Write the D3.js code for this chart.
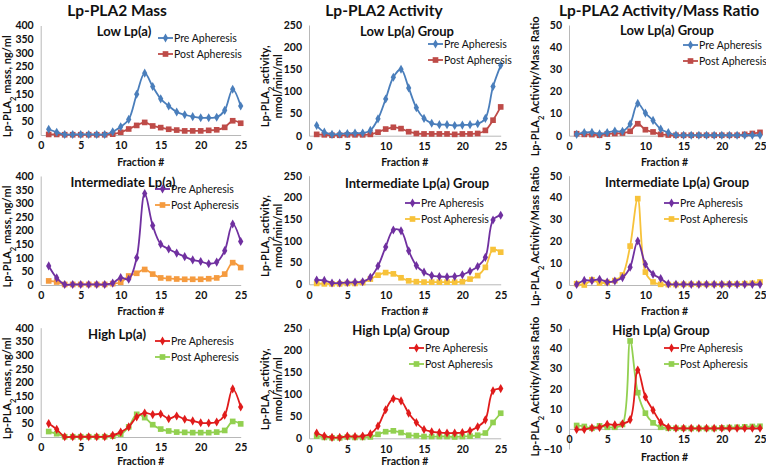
<!DOCTYPE html>
<html><head><meta charset="utf-8">
<script src="https://cdn.jsdelivr.net/npm/d3@7"></script>
<style>
body{margin:0;background:#fff;}
text{font-family:Lato,"Open Sans",sans-serif;fill:#111;}
</style></head>
<body><svg id="c" width="766" height="468"></svg>
<script>
const fractions = d3.range(1, 26);

// Lp-PLA2 mass (ng/ml)
const massLowPre   = [21,10,2,2,2,2,2,2,12,30,57,149,226,177,132,106,84,74,67,63,63,65,90,167,106];
const massLowPost  = [2,2,1,1,1,1,1,1,3,10,22,35,46,33,27,21,18,15,15,15,17,19,28,52,43];
const massIntPre   = [70,26,2,2,2,2,2,2,7,27,21,100,336,218,150,132,117,104,92,86,78,84,126,224,160];
const massIntPost  = [15,11,2,2,2,2,2,2,5,10,33,43,57,40,26,24,22,21,21,21,23,26,40,82,64];
const massHighPre  = [49,28,1,1,1,1,1,1,6,18,37,73,88,82,84,67,77,65,59,52,51,55,80,176,110];
const massHighPost = [20,12,1,1,1,1,1,1,3,10,37,83,71,45,29,22,18,17,16,16,16,18,24,57,48];

// Lp-PLA2 activity (nmol/min/ml)
const actLowPre   = [23,8,3,4,5,6,6,12,38,83,132,150,108,63,39,28,25,25,23,24,25,27,39,111,159];
const actLowPost  = [3,2,1,1,2,2,2,3,8,15,19,16,9,5,4,4,4,4,3,4,4,5,12,35,65];
const actIntPre   = [10,9,3,3,4,5,6,16,42,86,125,123,77,43,28,20,18,17,18,22,30,41,62,148,159];
const actIntPost  = [2,1,1,1,2,2,4,12,21,27,24,15,8,6,5,5,5,5,5,6,12,20,39,80,74];
const actHighPre  = [12,5,2,2,5,4,5,10,28,65,90,85,57,36,20,15,13,12,12,13,17,26,42,108,113];
const actHighPost = [5,2,1,1,3,2,2,3,9,15,17,13,7,6,4,4,4,4,3,4,5,7,12,36,57];

// Activity / mass ratio
const ratioLowPre   = [0.6,1.4,1.5,0.8,1.4,2.1,2.0,5.3,14.6,10.2,6.9,3.0,1.4,0.3,0.2,0.2,0.2,0.2,0.2,0.2,0.2,0.2,0.2,0.2,0.2];
const ratioLowPost  = [0.9,0.6,0.5,0.2,0.8,1.0,1.2,2.0,5.4,2.7,1.7,0.6,0.3,0.2,0.2,0.2,0.2,0.2,0.2,0.2,0.2,0.2,0.6,1.0,1.5];
const ratioIntPre   = [0.2,2.1,2.0,2.6,1.4,1.8,3.4,8.1,20.1,9.5,4.9,3.0,0.5,0.3,0.3,0.3,0.3,0.3,0.3,0.3,0.3,0.3,0.3,0.3,0.3];
const ratioIntPost  = [0.6,0.0,2.4,0.9,1.2,2.0,4.6,17.8,39.5,5.9,1.4,0.3,0.2,0.2,0.3,0.3,0.3,0.3,0.3,0.3,0.4,0.4,0.6,0.8,1.4];
const ratioHighPre  = [-0.3,-0.3,0.5,0.7,2.3,2.0,2.5,4.6,29.3,15.9,9.3,3.3,0.8,0.3,0.3,0.3,0.3,0.3,0.3,0.3,0.3,0.3,0.3,0.3,0.3];
const ratioHighPost = [1.7,1.2,0.3,1.5,0.8,0.8,2.2,43.7,18.0,7.8,3.0,0.8,0.3,0.3,0.3,0.2,0.2,0.2,0.2,0.5,0.7,0.8,1.0,1.2,1.3];

const columnTitles = ["Lp-PLA2 Mass","Lp-PLA2 Activity","Lp-PLA2 Activity/Mass Ratio"];
const seriesNames = ["Pre Apheresis","Post Apheresis"];
const xTicks = [0,5,10,15,20,25];
const yTicksMass = [0,50,100,150,200,250,300,350,400];
const yTicksAct = [0,50,100,150,200,250];
const yTicksRatio = [0,10,20,30,40,50];
const yTicksRatioHigh = [-10,0,10,20,30,40,50];

const colBlue="#4A7EBB", colRed="#BE4B48", colPurple="#7030A0", colOrange="#F59B3F",
      colYellow="#F7C23A", colRedBright="#E01B1B", colGreen="#92D050";

// layout (pixels)
const cols = [{x0:40.7,x1:240.7},{x0:309,x1:500.7},{x0:569,x1:760}];
const panels = [
 {c:0,yTop:25.5,yBot:135,dom:[0,400],ticks:yTicksMass,pre:massLowPre,post:massLowPost,cp:colBlue,cq:colRed,sub:"Low Lp(a)",sx:124,sy:31,lx:158,ly:38,fy:162},
 {c:1,yTop:25,yBot:135.7,dom:[0,250],ticks:yTicksAct,pre:actLowPre,post:actLowPost,cp:colBlue,cq:colRed,sub:"Low Lp(a) Group",sx:407,sy:31,lx:428,ly:44,fy:162},
 {c:2,yTop:25,yBot:135.7,dom:[0,50],ticks:yTicksRatio,pre:ratioLowPre,post:ratioLowPost,cp:colBlue,cq:colRed,sub:"Low Lp(a) Group",sx:667,sy:30,lx:683,ly:45,fy:162},
 {c:0,yTop:176,yBot:285,dom:[0,400],ticks:yTicksMass,pre:massIntPre,post:massIntPost,cp:colPurple,cq:colOrange,sub:"Intermediate Lp(a)",sx:123,sy:182,lx:155,ly:189,fy:311},
 {c:1,yTop:175.7,yBot:284.3,dom:[0,250],ticks:yTicksAct,pre:actIntPre,post:actIntPost,cp:colPurple,cq:colYellow,sub:"Intermediate Lp(a) Group",sx:417,sy:183,lx:405,ly:203,fy:311},
 {c:2,yTop:175.7,yBot:285,dom:[0,50],ticks:yTicksRatio,pre:ratioIntPre,post:ratioIntPost,cp:colPurple,cq:colYellow,sub:"Intermediate Lp(a) Group",sx:677,sy:182,lx:664,ly:203,fy:311},
 {c:0,yTop:327.7,yBot:437,dom:[0,400],ticks:yTicksMass,pre:massHighPre,post:massHighPost,cp:colRedBright,cq:colGreen,sub:"High Lp(a)",sx:117,sy:334,lx:155,ly:341,fy:461},
 {c:1,yTop:328.3,yBot:438.3,dom:[0,250],ticks:yTicksAct,pre:actHighPre,post:actHighPost,cp:colRedBright,cq:colGreen,sub:"High Lp(a) Group",sx:401,sy:330,lx:409,ly:348,fy:461},
 {c:2,yTop:328.3,yBot:449,dom:[-10,50],ticks:yTicksRatioHigh,pre:ratioHighPre,post:ratioHighPost,cp:colRedBright,cq:colGreen,sub:"High Lp(a) Group",sx:661,sy:330,lx:664,ly:348,fy:457}
];

const svg = d3.select("#c");

// column titles
const titleX = [117,384,659];
columnTitles.forEach((t,i)=>{
  svg.append("text").attr("x",titleX[i]).attr("y",11).attr("dy","0.35em")
    .attr("text-anchor","middle").style("font-weight","bold").style("font-size","15.5px").text(t);
});

const diamond = d3.symbol().type(d3.symbolDiamond).size(24);
const square = d3.symbol().type(d3.symbolSquare).size(32);

panels.forEach((p,pi)=>{
  const col = cols[p.c];
  const x = d3.scaleLinear().domain([0,25]).range([col.x0,col.x1]);
  const y = d3.scaleLinear().domain(p.dom).range([p.yBot,p.yTop]);
  const g = svg.append("g");
  const y0 = y(0);

  // axes
  const yAx = g.append("g").attr("transform",`translate(${col.x0},0)`)
    .call(d3.axisLeft(y).tickValues(p.ticks).tickSize(0).tickPadding(7));
  yAx.select(".domain").attr("stroke","#b8b8b8");
  yAx.selectAll("text").style("font-weight","bold").style("font-size","10.5px").style("fill","#111");
  const xAx = g.append("g").attr("transform",`translate(0,${y0})`)
    .call(d3.axisBottom(x).tickValues(xTicks).tickSize(0).tickPadding(7));
  xAx.select(".domain").attr("stroke","#b8b8b8");
  xAx.selectAll("text").style("font-weight","bold").style("font-size","10.5px").style("fill","#111");

  // x axis title
  g.append("text").attr("x",(col.x0+col.x1)/2).attr("y",p.fy).attr("dy","0.35em")
    .attr("text-anchor","middle").style("font-weight","bold").style("font-size","10.5px").text("Fraction #");

  // y axis title
  const cy = (p.yTop+p.yBot)/2+6;
  const fs = "11px";
  if(p.c===0){
    const t = g.append("text").attr("transform",`translate(7,${cy}) rotate(-90)`).attr("dy","0.35em")
      .attr("text-anchor","middle").style("font-weight","bold").style("font-size",fs);
    t.append("tspan").text("Lp-PLA");
    t.append("tspan").attr("baseline-shift","sub").style("font-size","7.5px").text("2");
    t.append("tspan").text(" mass, ng/ml");
  } else if(p.c===1){
    const t = g.append("text").attr("transform",`translate(265,${cy}) rotate(-90)`).attr("dy","0.35em")
      .attr("text-anchor","middle").style("font-weight","bold").style("font-size",fs);
    t.append("tspan").text("Lp-PLA");
    t.append("tspan").attr("baseline-shift","sub").style("font-size","7.5px").text("2");
    t.append("tspan").text(" activity,");
    g.append("text").attr("transform",`translate(278,${cy}) rotate(-90)`).attr("dy","0.35em")
      .attr("text-anchor","middle").style("font-weight","bold").style("font-size",fs).text("nmol/min/ml");
  } else {
    const cyy = p.dom[0]<0 ? (p.yTop+y(0))/2+8 : cy;
    const t = g.append("text").attr("transform",`translate(535,${cyy}) rotate(-90)`).attr("dy","0.35em")
      .attr("text-anchor","middle").style("font-weight","bold").style("font-size",fs);
    t.append("tspan").text("Lp-PLA");
    t.append("tspan").attr("baseline-shift","sub").style("font-size","7.5px").text("2");
    t.append("tspan").text(" Activity/Mass Ratio");
  }

  // subtitle
  g.append("text").attr("x",p.sx).attr("y",p.sy).attr("dy","0.35em").attr("text-anchor","middle")
    .style("font-weight","bold").style("font-size","13px").text(p.sub);

  // series
  const line = d3.line().x((d,i)=>x(fractions[i])).y(d=>y(d)).curve(d3.curveCatmullRom.alpha(0.5));
  [[p.post,p.cq,square],[p.pre,p.cp,diamond]].forEach(([vals,c,sym])=>{
    g.append("path").datum(vals).attr("d",line).attr("fill","none").attr("stroke",c).attr("stroke-width",1.8);
    g.selectAll(null).data(vals).enter().append("path")
      .attr("transform",(d,i)=>`translate(${x(fractions[i])},${y(d)})`)
      .attr("d",sym).attr("fill",c);
  });

  // legend
  [[seriesNames[0],p.cp,diamond,p.ly],[seriesNames[1],p.cq,square,p.ly+16]].forEach(([name,c,sym,ly])=>{
    g.append("line").attr("x1",p.lx).attr("x2",p.lx+15).attr("y1",ly).attr("y2",ly).attr("stroke",c).attr("stroke-width",1.8);
    g.append("path").attr("transform",`translate(${p.lx+7.5},${ly})`).attr("d",sym).attr("fill",c);
    g.append("text").attr("x",p.lx+16).attr("y",ly).attr("dy","0.35em").style("font-size","10.5px").style("font-weight","normal").text(name);
  });
});
</script></body></html>
